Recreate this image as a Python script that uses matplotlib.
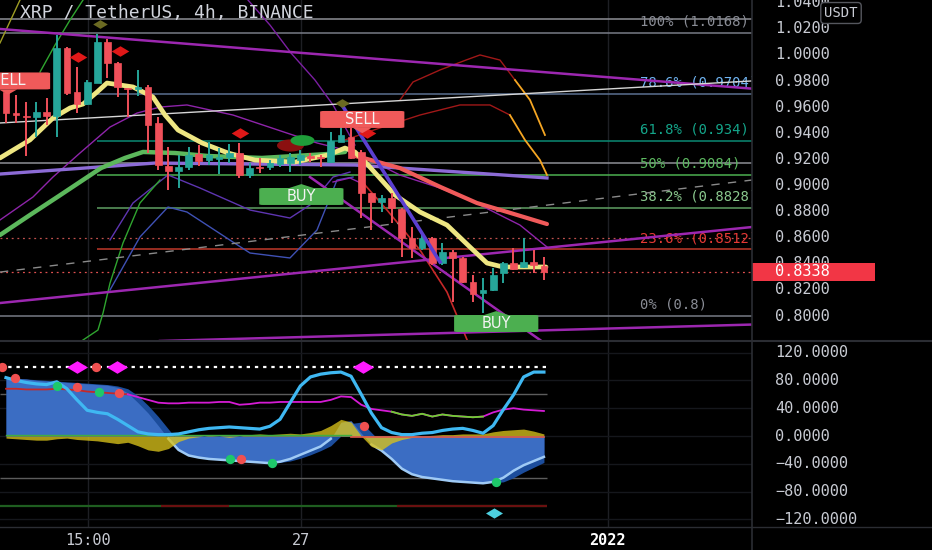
import numpy as np
import matplotlib
matplotlib.use("Agg")
import matplotlib.pyplot as plt
from matplotlib.patches import FancyBboxPatch, Rectangle, Polygon
from matplotlib.lines import Line2D
from matplotlib.path import Path

plt.rcParams['font.family'] = ['DejaVu Sans Mono', 'DejaVu Sans']

# ---------------- candle data (XRP/USDT 4h) ----------------
opens = [0.9719, 0.9558, 0.9532, 0.9522, 0.9565, 0.9532, 1.0051, 0.9719, 0.9624, 0.9788,
         1.0102, 0.9936, 0.9745, 0.9737, 0.9757, 0.9477, 0.9149, 0.9111, 0.9139, 0.9241,
         0.9195, 0.9203, 0.9221, 0.9247, 0.9080, 0.9142, 0.9142, 0.9165, 0.9172, 0.9195,
         0.9226, 0.9216, 0.9182, 0.9336, 0.9374, 0.9259, 0.8940, 0.8876, 0.8904, 0.8820,
         0.8598, 0.8519, 0.8596, 0.8404, 0.8493, 0.8442, 0.8263, 0.8179, 0.8200, 0.8328,
         0.8409, 0.8378, 0.8416, 0.8383]
highs = [0.9732, 0.9693, 0.9642, 0.9642, 0.9670, 1.0153, 1.0063, 0.9910, 0.9808, 1.0161,
         1.0120, 0.9948, 0.9750, 0.9885, 0.9770, 0.9527, 0.9295, 0.9234, 0.9297, 0.9310,
         0.9336, 0.9287, 0.9318, 0.9326, 0.9172, 0.9211, 0.9195, 0.9234, 0.9249, 0.9272,
         0.9249, 0.9234, 0.9412, 0.9555, 0.9441, 0.9272, 0.8942, 0.8927, 0.8943, 0.8828,
         0.8684, 0.8644, 0.8608, 0.8560, 0.8506, 0.8455, 0.8314, 0.8292, 0.8368, 0.8416,
         0.8521, 0.8598, 0.8506, 0.8452]
lows = [0.9479, 0.9479, 0.9226, 0.9374, 0.9464, 0.9369, 0.9693, 0.9558, 0.9617, 0.9783,
        0.9821, 0.9680, 0.9527, 0.9686, 0.9247, 0.9119, 0.8966, 0.8981, 0.9119, 0.9149,
        0.9157, 0.9088, 0.9172, 0.9058, 0.9058, 0.9096, 0.9119, 0.9142, 0.9103, 0.9157,
        0.9180, 0.9142, 0.9170, 0.9330, 0.9203, 0.8751, 0.8659, 0.8799, 0.8713, 0.8455,
        0.8445, 0.8506, 0.8391, 0.8391, 0.8110, 0.8251, 0.8110, 0.8023, 0.8194, 0.8251,
        0.8353, 0.8368, 0.8330, 0.8276]
closes = [0.9553, 0.9540, 0.9522, 0.9565, 0.9532, 1.0051, 0.9711, 0.9624, 0.9795, 1.0102,
          0.9936, 0.9752, 0.9737, 0.9757, 0.9464, 0.9157, 0.9111, 0.9139, 0.9234, 0.9190,
          0.9234, 0.9218, 0.9249, 0.9080, 0.9134, 0.9134, 0.9172, 0.9211, 0.9221, 0.9234,
          0.9211, 0.9208, 0.9341, 0.9387, 0.9208, 0.8940, 0.8876, 0.8904, 0.8828, 0.8598,
          0.8521, 0.8596, 0.8404, 0.8488, 0.8442, 0.8263, 0.8169, 0.8200, 0.8314, 0.8404,
          0.8358, 0.8416, 0.8391, 0.8338]

# ---------------- overlay indicator lines (candle index, price) ----------------
yellow_ma_x = [-0.59, 2.36, 4.63, 6.31, 7.59, 8.97, 9.95, 12.51, 14.48, 15.67, 16.95, 19.31,
               21.87, 24.53, 28.47, 31.72, 33.40, 34.38, 35.67, 38.33, 40.79, 43.45, 45.71,
               47.39, 48.97, 53.2]
yellow_ma_y = [0.9211, 0.9349, 0.9517, 0.9594, 0.9624, 0.9716, 0.9785, 0.9755, 0.9678, 0.9540,
               0.9425, 0.9326, 0.9249, 0.9195, 0.9180, 0.9234, 0.9287, 0.9257, 0.9157, 0.8927,
               0.8797, 0.8697, 0.8529, 0.8406, 0.8376, 0.8376]
green_ma_x = [-0.59, 2.36, 5.22, 7.29, 9.36, 11.72, 13.5, 16.65, 19.9, 25.22, 31.63, 33.4]
green_ma_y = [0.8621, 0.8774, 0.8920, 0.9027, 0.9134, 0.9211, 0.9257, 0.9249, 0.9226, 0.9211,
              0.9241, 0.9257]
red_ma_x = [34.4, 35.6, 38.8, 42.8, 46.4, 49.4, 53.3]
red_ma_y = [0.9226, 0.9203, 0.9134, 0.8989, 0.8866, 0.8797, 0.8705]
purple_ma_x = [-0.59, 14.68, 34.38, 53.3]
purple_ma_y = [0.9088, 0.9172, 0.9157, 0.9058]

band_a_x = [-0.59, 2.66, 4.63, 7.29, 10.25, 12.91, 15.17, 17.83, 22.36, 27.68, 30.64, 33.4,
            35.86, 38.82, 42.76, 46.31, 50.64, 53.3]
band_a_y = [0.8736, 0.8912, 0.9065, 0.9249, 0.9448, 0.9555, 0.9601, 0.9617, 0.9540, 0.9402,
            0.9326, 0.9272, 0.9195, 0.9080, 0.8981, 0.8866, 0.8697, 0.8529]
band_b_x = [23.84, 26.01, 28.08, 30.44, 32.22, 34.38]
band_b_y = [1.0421, 1.0229, 1.0015, 0.9808, 0.9617, 0.9310]
band_c_x = [10.25, 13.2, 15.96, 17.83, 22.36, 24.04, 27.98, 30.64, 32.61, 34.19]
band_c_y = [0.8200, 0.8606, 0.8835, 0.8797, 0.8567, 0.8483, 0.8445, 0.8659, 0.9042, 0.9065]
band_d_x = [10.25, 12.51, 15.96, 19.11, 24.04, 27.98, 29.95, 32.22, 33.89]
band_d_y = [0.8583, 0.8866, 0.9081, 0.8981, 0.8812, 0.8751, 0.8851, 0.9065, 0.9103]
band_e_x = [7.29, 9.06, 9.56, 10.25, 11.53, 13.2, 15.17]
band_e_y = [0.7801, 0.7893, 0.8023, 0.8253, 0.8560, 0.8866, 0.9042]
band_f_x = [7.59, 6.31, 4.83, 3.35]
band_f_y = [1.0421, 1.0268, 1.0076, 0.9869]
band_g_x = [1.38, -0.59]
band_g_y = [1.0421, 1.0092]
low_band_x = [32.22, 33.89, 35.37, 37.54, 40.79, 43.45, 45.52]
low_band_y = [0.9027, 0.9058, 0.9004, 0.8812, 0.8506, 0.8184, 0.7801]
arc1_x = [38.82, 40.10, 42.76, 45.32, 46.70, 48.67, 50.15, 51.63, 53.10]
arc1_y = [0.9655, 0.9793, 0.9885, 0.9961, 1.0000, 0.9961, 0.9808, 0.9655, 0.9387]
arc2_x = [33.40, 36.85, 40.79, 44.73, 47.68, 49.65, 51.13, 52.61, 53.30]
arc2_y = [0.9349, 0.9441, 0.9540, 0.9617, 0.9617, 0.9540, 0.9349, 0.9195, 0.9081]

# trend-line drawings: (x0, p0, x1, p1)
trend_purple = [(-0.59, 1.0199, 73.5, 0.9742), (-0.59, 0.8100, 73.5, 0.8682),
                (15.17, 0.7809, 73.5, 0.7935), (29.95, 0.9065, 52.9, 0.7801)]
trend_steep = (33.1, 0.9617, 42.76, 0.8414)
trend_white = (-0.59, 0.9479, 73.5, 0.9801)
trend_dashed = (-0.59, 0.8337, 73.5, 0.9042)

# Fibonacci retracement
fib_low, fib_high = 0.8000, 1.0168
fib_pcts = [0.0, 23.6, 38.2, 50.0, 61.8, 78.6, 100.0]
fib_line_colors = ['#787b86', '#c0392b', '#5f9e62', '#4caf50', '#0b8a73', '#5b6f90', '#787b86']
fib_text_colors = ['#8a8d96', '#e53935', '#8bc98e', '#5cb860', '#14a58a', '#6fb3f0', '#8a8d96']
extra_levels = [1.0275, 0.9172]
dotted_red_levels = [0.8598]

# signals
sig_idx = [0.2, 35.1, 29.1, 48.3]
sig_price = [0.9801, 0.9506, 0.8916, 0.7943]
sig_text = ['SELL', 'SELL', 'BUY', 'BUY']
red_diamond_idx = [7.09, 11.23, 23.05, 35.6]
red_diamond_p = [0.9984, 1.0030, 0.9402, 0.9405]
olive_diamond_idx = [9.26, 33.1]
olive_diamond_p = [1.0237, 0.9632]

price_ticks = [1.04, 1.02, 1.00, 0.98, 0.96, 0.94, 0.92, 0.90, 0.88, 0.86, 0.84, 0.82, 0.80]
last_price = closes[-1]

# ---------------- oscillator panel ----------------
wave = [84, 83, 82, 80, 79, 78, 77, 76, 75, 74, 73, 70, 62, 48, 33, 15, -4, -20, -28, -31,
        -33, -34, -35, -36, -37, -38, -39, -37, -33, -27, -21, -15, -4, 20, 22, 4, -12, -21,
        -33, -47, -55, -59, -61, -63, -65, -66, -67, -68, -66, -60, -50, -42, -36, -30]
signal = [82, 82, 82, 81, 80, 79, 78, 77, 76, 75, 74, 72, 68, 58, 44, 28, 10, -8, -20, -27,
          -30, -32, -33, -34, -35, -36, -37, -38, -36, -32, -27, -21, -14, 0, 18, 20, 5, -10,
          -20, -32, -45, -53, -58, -60, -62, -64, -65, -66, -67, -66, -60, -52, -45, -38]
fast = [84, 80, 77, 75, 74, 78, 68, 52, 37, 34, 32, 24, 15, 6, 3, 2, 2, 3, 6, 9, 11, 12, 13,
        12, 11, 10, 14, 24, 48, 72, 85, 89, 91, 92, 86, 60, 33, 12, 5, 2, 2, 4, 5, 8, 10, 11,
        8, 4, 15, 38, 59, 85, 92, 92]
flow = [-3, -4, -5, -6, -6, -4, -3, -5, -6, -7, -9, -11, -9, -14, -20, -22, -18, -8, -3, -1,
        1, 0, -2, 0, 2, 3, 2, 3, 4, 3, 5, 8, 15, 24, 20, 0, -15, -20, -10, -5, -2, 0, 1, 2, 2,
        3, 3, 3, 6, 8, 9, 10, 7, 3]
rsi_like = [68, 68, 67, 67, 67, 68, 67, 66, 64, 63, 62, 61, 60, 56, 52, 48, 47, 47, 48, 48,
            48, 49, 49, 45, 46, 48, 48, 49, 49, 49, 49, 49, 52, 57, 56, 45, 39, 37, 35, 31, 29,
            32, 28, 31, 29, 28, 27, 28, 34, 38, 40, 38, 37, 36]
osc_ticks = [120, 80, 40, 0, -40, -80, -120]
red_dot_x = [-0.4, 0.9, 7.0, 8.9, 11.1, 23.2, 35.3]
red_dot_v = [100, 84, 70, 100, 62, -33, 14]
green_dot_x = [5.0, 9.2, 22.1, 26.2, 48.3]
green_dot_v = [72, 64, -33, -39, -66]
mag_dia_x = [7.0, 10.9, 35.2]
mag_dia_v = [100, 100, 100]
cyan_dia_x = [48.1]
cyan_dia_v = [-111]
bear_ranges = [(15.3, 22.0), (38.5, 53.3)]

time_pos = [8.08, 29.06, 59.3]
time_labels = ['15:00', '27', '2022']

# ---------------- figure ----------------
BG = '#000000'
TXT = '#c8cbd3'
fig = plt.figure(figsize=(9.32, 5.5), dpi=100, facecolor=BG)
ax = fig.add_axes([0, 209 / 550, 752 / 932, 341 / 550], facecolor=BG)
ax2 = fig.add_axes([0, 23 / 550, 752 / 932, 186 / 550], facecolor=BG)
XL = (-0.59, 73.5)
for a in (ax, ax2):
    a.set_xlim(*XL)
    a.set_xticks([])
    a.set_yticks([])
    for s in a.spines.values():
        s.set_visible(False)
ax.set_ylim(0.7809, 1.0421)
ax2.set_ylim(-130.9, 136.7)

# vertical time grid
for tp in time_pos:
    ax.axvline(tp, color='#1e1f24', lw=1, zorder=0)
    ax2.axvline(tp, color='#1e1f24', lw=1, zorder=0)

# ---- main panel drawings ----
n = len(opens)
idx = np.arange(n)
fib_prices = [fib_low + (fib_high - fib_low) * p / 100 for p in fib_pcts]
for pct, fp, lc, tc in zip(fib_pcts, fib_prices, fib_line_colors, fib_text_colors):
    start = XL[0] if pct in (0.0, 100.0) else 9.0
    ax.hlines(fp, start, XL[1], color=lc, lw=1.1, zorder=1)
    txt = f"{fp:.4f}".rstrip('0').rstrip('.')
    ax.annotate(f"{pct:g}% ({txt})", (62.5, fp), xytext=(0, 3), textcoords='offset points',
                color=tc, fontsize=10, va='bottom', ha='left', clip_on=True,
                annotation_clip=True, zorder=2)
for lv in extra_levels:
    ax.axhline(lv, color='#8d8f96', lw=1.1, zorder=1)
for lv in dotted_red_levels:
    ax.axhline(lv, color='#c0504d', lw=0.9, ls=(0, (1.5, 3)), zorder=1)
ax.axhline(last_price, color='#e05050', lw=0.9, ls=(0, (1.5, 3)), zorder=1)

# thin bands
ax.plot(band_a_x, band_a_y, color='#8e24aa', lw=1, zorder=2)
ax.plot(band_b_x, band_b_y, color='#7b1fa2', lw=1, zorder=2)
ax.plot(band_c_x, band_c_y, color='#3f51b5', lw=1, zorder=2)
ax.plot(band_d_x, band_d_y, color='#5e35b1', lw=1, zorder=2)
ax.plot(band_e_x, band_e_y, color='#2fa52f', lw=1, zorder=2)
ax.plot(band_f_x, band_f_y, color='#2fa52f', lw=1, zorder=2)
ax.plot(band_g_x, band_g_y, color='#9e9d24', lw=1, zorder=2)
ax.plot(low_band_x[:3], low_band_y[:3], color='#8e24aa', lw=1, zorder=2)
ax.plot(low_band_x[2:], low_band_y[2:], color='#c62828', lw=1.2, zorder=2)
ax.plot(arc1_x[:7], arc1_y[:7], color='#a01818', lw=1, zorder=2)
ax.plot(arc1_x[6:], arc1_y[6:], color='#f5a623', lw=1.3, zorder=2)
ax.plot(arc2_x[:6], arc2_y[:6], color='#a01818', lw=1, zorder=2)
ax.plot(arc2_x[5:], arc2_y[5:], color='#f5a623', lw=1.3, zorder=2)

# trend lines
for (x0, p0, x1, p1) in trend_purple:
    ax.plot([x0, x1], [p0, p1], color='#9c27b0', lw=1.8, zorder=3)
ax.plot(trend_steep[::2], trend_steep[1::2], color='#5b3fd0', lw=2.6, zorder=6)
ax.plot(trend_white[::2], trend_white[1::2], color='#d6d6d6', lw=1.0, zorder=3)
ax.plot(trend_dashed[::2], trend_dashed[1::2], color='#8a8a8a', lw=1.0, ls=(0, (6, 6)), zorder=3)

# moving averages
ax.plot(purple_ma_x, purple_ma_y, color='#8c6bd6', lw=2.4, zorder=3)
ax.plot(green_ma_x, green_ma_y, color='#5cb85c', lw=3.2, zorder=3, solid_capstyle='round')
ax.plot(red_ma_x, red_ma_y, color='#f05a5a', lw=3.0, zorder=3, solid_capstyle='round')
ax.plot(yellow_ma_x, yellow_ma_y, color='#eee682', lw=3.4, zorder=4, solid_capstyle='round')

# candles
up_c, dn_c = '#26a69a', '#f0505a'
for i in range(n):
    o, h, l, c = opens[i], highs[i], lows[i], closes[i]
    col = up_c if c >= o else dn_c
    ax.vlines(i, l, h, color=col, lw=1.4, zorder=5)
    lo, hi = min(o, c), max(o, c)
    ax.add_patch(Rectangle((i - 0.33, lo), 0.66, max(hi - lo, 0.0006), facecolor=col,
                           edgecolor=col, lw=0.5, zorder=5))

# markers
dia = [(-1, 0), (0, 0.6), (1, 0), (0, -0.6), (-1, 0)]
ax.scatter(red_diamond_idx, red_diamond_p, marker=dia, s=160, color='#e01818', zorder=7,
           linewidths=0)
ax.scatter(olive_diamond_idx, olive_diamond_p, marker=dia, s=110, color='#6b6a22', zorder=6,
           linewidths=0)
ell = [(np.cos(t), 0.45 * np.sin(t)) for t in np.linspace(0, 2 * np.pi, 30)]
ax.scatter([27.98], [0.9310], marker=ell, s=380, color='#8b1010', zorder=6, linewidths=0)
ax.scatter([29.16], [0.9349], marker=ell, s=300, color='#1f9e3a', zorder=6, linewidths=0)

# signal labels
for si, sp, st in zip(sig_idx, sig_price, sig_text):
    col = '#f05a5a' if st == 'SELL' else '#4caf50'
    w, hgt = 8.3, 0.0130
    ax.add_patch(FancyBboxPatch((si - w / 2, sp - hgt / 2), w, hgt,
                                boxstyle='round,pad=0,rounding_size=0.4',
                                mutation_aspect=0.0015, facecolor=col, edgecolor='none',
                                zorder=9))
    if st == 'SELL':
        tri = [(si - 0.9, sp - hgt / 2), (si + 0.9, sp - hgt / 2), (si, sp - hgt / 2 - 0.004)]
    else:
        tri = [(si - 1.2, sp + hgt / 2), (si + 1.2, sp + hgt / 2), (si, sp + hgt / 2 + 0.003)]
    ax.add_patch(Polygon(tri, closed=True, facecolor=col, edgecolor='none', zorder=9))
    ax.text(si, sp, st, color='#f4f4f4', fontsize=10.5, ha='center', va='center',
            family='DejaVu Sans', zorder=10)

# price axis labels
ytr = ax.get_yaxis_transform()
for t in price_ticks:
    ax.text(1.0306, t, f"{t:.4f}", transform=ytr, color=TXT, fontsize=11, va='center',
            ha='left', clip_on=False)
ax.add_patch(Rectangle((1.0, last_price - 0.0068), 123 / 752, 0.0136, transform=ytr,
                       facecolor='#f23645', edgecolor='none', clip_on=False, zorder=20))
ax.text(1.0306, last_price, f"{last_price:.4f}", transform=ytr, color='white', fontsize=11,
        va='center', ha='left', clip_on=False, zorder=21)

# ---- oscillator panel ----
ox = np.arange(len(wave))
wave_a = np.array(wave, dtype=float)
for v in osc_ticks:
    ax2.axhline(v, color='#15171c', lw=1, zorder=0)
ax2.fill_between(ox, signal, 0, color='#1c4d9c', lw=0, zorder=2)
ax2.fill_between(ox, wave, 0, color='#3b6dc3', lw=0, zorder=3)
ax2.plot(ox, np.where(wave_a < 0, wave_a, np.nan), color='#9fcaf5', lw=1.8, zorder=4)
ax2.fill_between(ox, flow, 0, color='#d8c21a', alpha=0.78, lw=0, zorder=5)
ax2.plot(ox[:35], np.array(flow[:35]) * 0 + 2, color='#3fae3f', lw=1, zorder=5)
ax2.plot(ox[34:], np.array(flow[34:]) * 0 - 2, color='#e05a4a', lw=1.2, zorder=5)
ax2.plot(ox[:13], rsi_like[:13], color='#c62828', lw=1.3, zorder=6)
ax2.plot(ox[12:], rsi_like[12:], color='#d51bd5', lw=1.3, zorder=6)
ax2.plot(ox[38:48], rsi_like[38:48], color='#6fcf2f', lw=1.3, zorder=6)
ax2.plot(ox, fast, color='#3fb8f2', lw=2.3, zorder=7)
ax2.hlines(100, XL[0], ox[-1] + 0.3, color='white', lw=1.6, ls=(0, (1.5, 2.2)), zorder=6)
ax2.hlines([60, -60], XL[0], ox[-1] + 0.3, color='#5c5c5c', lw=1, zorder=1)
ax2.hlines(-100, XL[0], ox[-1] + 0.3, color='#1f5e20', lw=1.6, zorder=1)
for a0, a1 in bear_ranges:
    ax2.hlines(-100, a0, a1, color='#6a1010', lw=1.6, zorder=1)
ax2.scatter(red_dot_x, red_dot_v, s=45, color='#f05050', zorder=8, linewidths=0)
ax2.scatter(green_dot_x, green_dot_v, s=45, color='#1ec86a', zorder=8, linewidths=0)
ax2.scatter(mag_dia_x, mag_dia_v, marker=dia, s=230, color='#ff1aff', zorder=9, linewidths=0)
ax2.scatter(cyan_dia_x, cyan_dia_v, marker=dia, s=150, color='#4dd0e1', zorder=9, linewidths=0)

ytr2 = ax2.get_yaxis_transform()
for v in osc_ticks:
    ax2.text(1.0306, v, f"{v:.4f}".replace('-', '\u2212'), transform=ytr2, color=TXT,
             fontsize=11, va='center', ha='left', clip_on=False)

xtr2 = ax2.get_xaxis_transform()
for tp, tl in zip(time_pos, time_labels):
    ax2.text(tp, -0.07, tl, transform=xtr2, color=('#ffffff' if tl == '2022' else TXT),
             fontsize=11, ha='center', va='center', clip_on=False,
             fontweight=('bold' if tl == '2022' else 'normal'))

# separators, title, currency tag
fig.add_artist(Line2D([752 / 932, 752 / 932], [0, 1], color='#2b2d33', lw=1.2))
fig.add_artist(Line2D([0, 1], [209 / 550, 209 / 550], color='#2b2d33', lw=1.5))
fig.add_artist(Line2D([0, 1], [23 / 550, 23 / 550], color='#2b2d33', lw=1.0))
fig.text(20 / 932, 1 - 13 / 550, 'XRP / TetherUS, 4h, BINANCE', color='#d1d4dc', fontsize=13,
         va='center', ha='left')
fig.text(841 / 932, 1 - 13 / 550, 'USDT', color='#c8cbd3', fontsize=10, va='center',
         ha='center', bbox=dict(boxstyle='round,pad=0.25', facecolor=BG, edgecolor='#55575e'))

fig.savefig('out.png', dpi=100, facecolor=BG)
